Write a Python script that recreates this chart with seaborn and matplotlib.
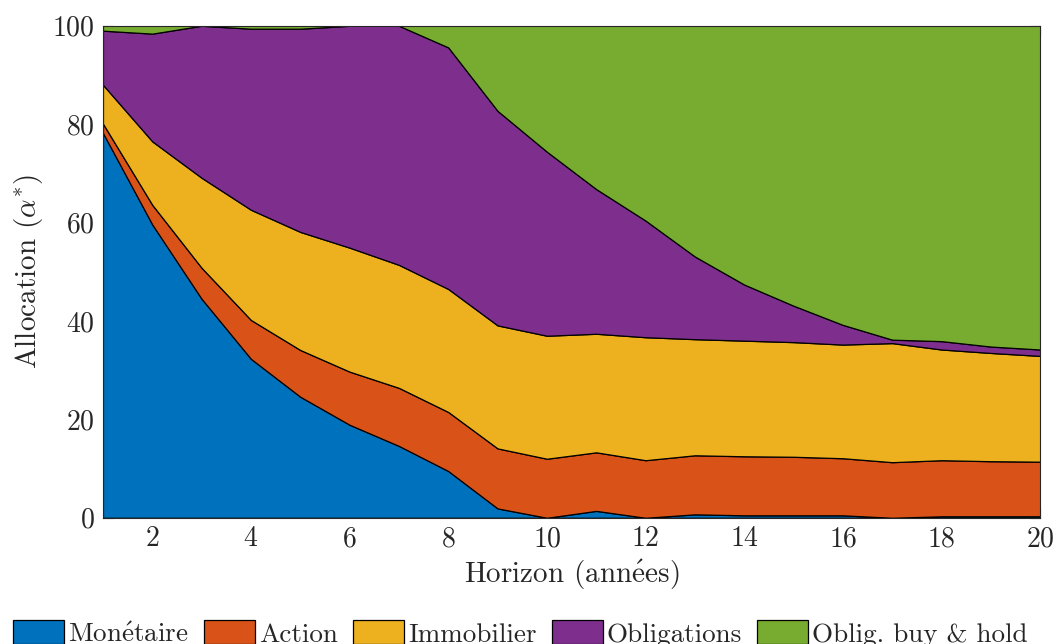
import numpy as np
import pandas as pd
import matplotlib
matplotlib.use('Agg')
import matplotlib.pyplot as plt
import seaborn as sns

# horizon (years) and allocation of each asset class (%)
horizon = list(range(1, 21))
monetaire = [78.2, 59.6, 44.5, 32.3, 24.6, 18.9, 14.6, 9.5, 1.9, 0.0,
             1.4, 0.0, 0.7, 0.5, 0.5, 0.5, 0.0, 0.3, 0.3, 0.3]
action = [1.9, 4.0, 6.3, 7.9, 9.5, 10.8, 11.8, 12.0, 12.2, 12.0,
          11.9, 11.7, 12.0, 12.0, 11.9, 11.6, 11.3, 11.4, 11.2, 11.1]
immobilier = [7.9, 12.9, 18.3, 22.4, 24.0, 25.2, 25.0, 25.0, 25.0, 25.0,
              24.1, 25.0, 23.6, 23.5, 23.3, 23.1, 24.2, 22.5, 22.0, 21.5]
obligations = [11.0, 21.9, 30.9, 36.8, 41.3, 45.1, 48.6, 49.1, 43.6, 37.4,
               29.4, 23.7, 16.8, 11.4, 7.4, 4.0, 0.7, 1.7, 1.3, 1.3]
oblig_bh = [1.0, 1.6, 0.0, 0.6, 0.6, 0.0, 0.0, 4.4, 17.3, 25.6,
            33.2, 39.6, 46.9, 52.6, 56.9, 60.8, 63.8, 64.1, 65.2, 65.8]
labels = [r'Mon$\mathrm{\acute{e}}$taire', 'Action', 'Immobilier', 'Obligations',
          'Oblig. buy & hold']
colors = ['#0072BD', '#D95319', '#EDB120', '#7E2F8E', '#77AC30']

series = [monetaire, action, immobilier, obligations, oblig_bh]

sns.set_style('ticks')
plt.rcParams['font.family'] = ['cmr10', 'DejaVu Serif']
plt.rcParams['mathtext.fontset'] = 'cm'
plt.rcParams['axes.formatter.use_mathtext'] = True

fig = plt.figure(figsize=(10.56, 6.44), dpi=100)
ax = fig.add_axes([0.0975, 0.196, 0.8875, 0.764])

ax.stackplot(horizon, series, labels=labels, colors=colors,
             edgecolor='black', linewidth=0.9)

ax.set_xlim(1, 20)
ax.set_ylim(0, 100)
ax.set_xticks(range(2, 21, 2))
ax.set_yticks(range(0, 101, 20))
ax.tick_params(direction='in', top=True, right=True, labelsize=20, length=7,
               width=0.8, color='#262626', pad=6)
for s in ax.spines.values():
    s.set_linewidth(0.8)
    s.set_color('#262626')
ax.set_xlabel(r'Horizon (ann$\mathrm{\acute{e}}$es)', fontsize=21, labelpad=4)
ax.set_ylabel(r'Allocation ($\alpha^{*}$)', fontsize=21, labelpad=5)

fig.legend(loc='upper left', bbox_to_anchor=(0.0123, 0.037), ncol=5, frameon=False,
           fontsize=19.5, handlelength=1.88, handleheight=1.0, handletextpad=0.15,
           columnspacing=0.56, borderaxespad=0.0, borderpad=0.0)

fig.savefig('out.png', dpi=100)
